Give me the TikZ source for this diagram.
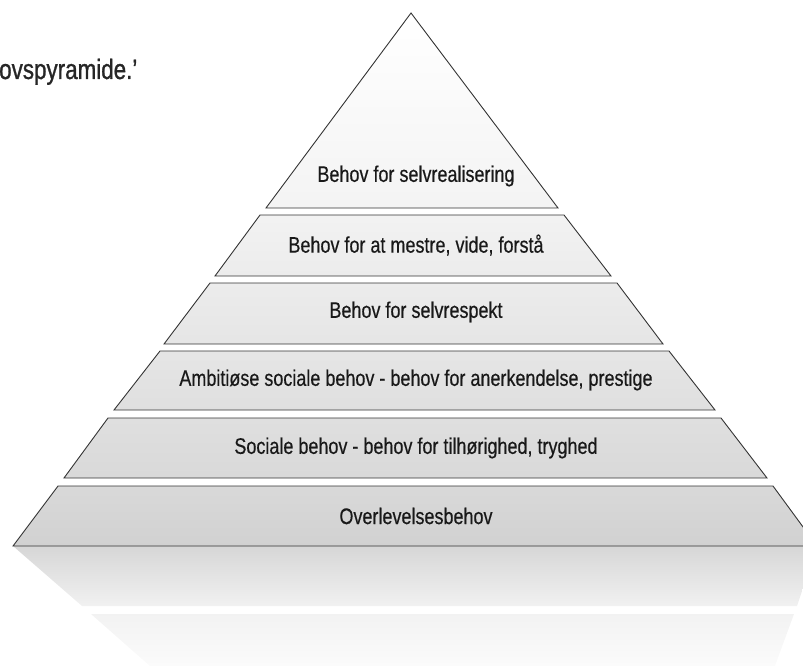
\documentclass[tikz,border=0pt]{standalone}
\usepackage{fontspec}
\newfontfamily\pyrfont[FakeStretch=0.80,FakeBold=0.4]{Liberation Sans}
\newfontfamily\headfont[FakeStretch=0.80,FakeBold=1]{Liberation Sans}

% grey levels of the tiers, lighter at the top of the pyramid
\definecolor{t1a}{gray}{1.00}\definecolor{t1b}{gray}{0.955}
\definecolor{t2a}{gray}{0.950}\definecolor{t2b}{gray}{0.925}
\definecolor{t3a}{gray}{0.925}\definecolor{t3b}{gray}{0.900}
\definecolor{t4a}{gray}{0.900}\definecolor{t4b}{gray}{0.875}
\definecolor{t5a}{gray}{0.875}\definecolor{t5b}{gray}{0.850}
\definecolor{t6a}{gray}{0.850}\definecolor{t6b}{gray}{0.820}
\definecolor{r1a}{gray}{0.840}\definecolor{r1b}{gray}{0.945}
\definecolor{r2a}{gray}{0.950}\definecolor{r2b}{gray}{0.990}

\tikzset{
  tier/.style={draw=black!80, line width=0.9pt, line join=miter},
  lbl/.style={font=\pyrfont\fontsize{22.5}{26}\selectfont, text=black!90, inner sep=0pt},
  heading/.style={font=\headfont\fontsize{28}{32}\selectfont, text=black!85, inner sep=0pt}
}

\begin{document}
\begin{tikzpicture}[x=1pt,y=1pt]
\useasboundingbox (0,0) rectangle (803,-666);
\begin{scope}
\clip (0,0) rectangle (803,-666);

% mirrored, sheared reflection under the base
\shade[top color=r1a, bottom color=r1b]
  (13,-546) -- (817,-546) -- (797,-606) -- (82,-606) -- cycle;
\shade[top color=r2a, bottom color=r2b]
  (91,-614) -- (794,-614) -- (772,-674) -- (159,-674) -- cycle;

% tiers, top to bottom
\shade[tier, top color=t1a, bottom color=t1b]
  (411,-13) coordinate (apex) -- (558,-208) -- (266,-208) -- cycle;
\shade[tier, top color=t2a, bottom color=t2b]
  (260,-215) -- (564,-215) -- (611,-276) -- (215,-276) -- cycle;
\shade[tier, top color=t3a, bottom color=t3b]
  (210,-283) -- (617,-283) -- (663,-344) -- (164,-344) -- cycle;
\shade[tier, top color=t4a, bottom color=t4b]
  (160,-351) -- (669,-351) -- (715,-410) -- (114,-410) -- cycle;
\shade[tier, top color=t5a, bottom color=t5b]
  (108,-418) -- (721,-418) -- (767,-478) -- (64,-478) -- cycle;
\shade[tier, top color=t6a, bottom color=t6b]
  (58,-486) -- (773,-486) -- (817,-546) -- (13,-546) -- cycle;

% labels
\node[lbl] (l1) at (416,-176) {Behov for selvrealisering};
\node[lbl] (l2) at (416,-245) {Behov for at mestre, vide, forstå};
\node[lbl] (l3) at (416,-312) {Behov for selvrespekt};
\node[lbl] (l4) at (416,-380) {Ambitiøse sociale behov - behov for anerkendelse, prestige};
\node[lbl] (l5) at (416,-448) {Sociale behov - behov for tilhørighed, tryghed};
\node[lbl] (l6) at (416,-516) {Overlevelsesbehov};

\node[heading, anchor=base west] (head) at (-1,-79) {ovspyramide.’};
\end{scope}
\end{tikzpicture}
\end{document}
